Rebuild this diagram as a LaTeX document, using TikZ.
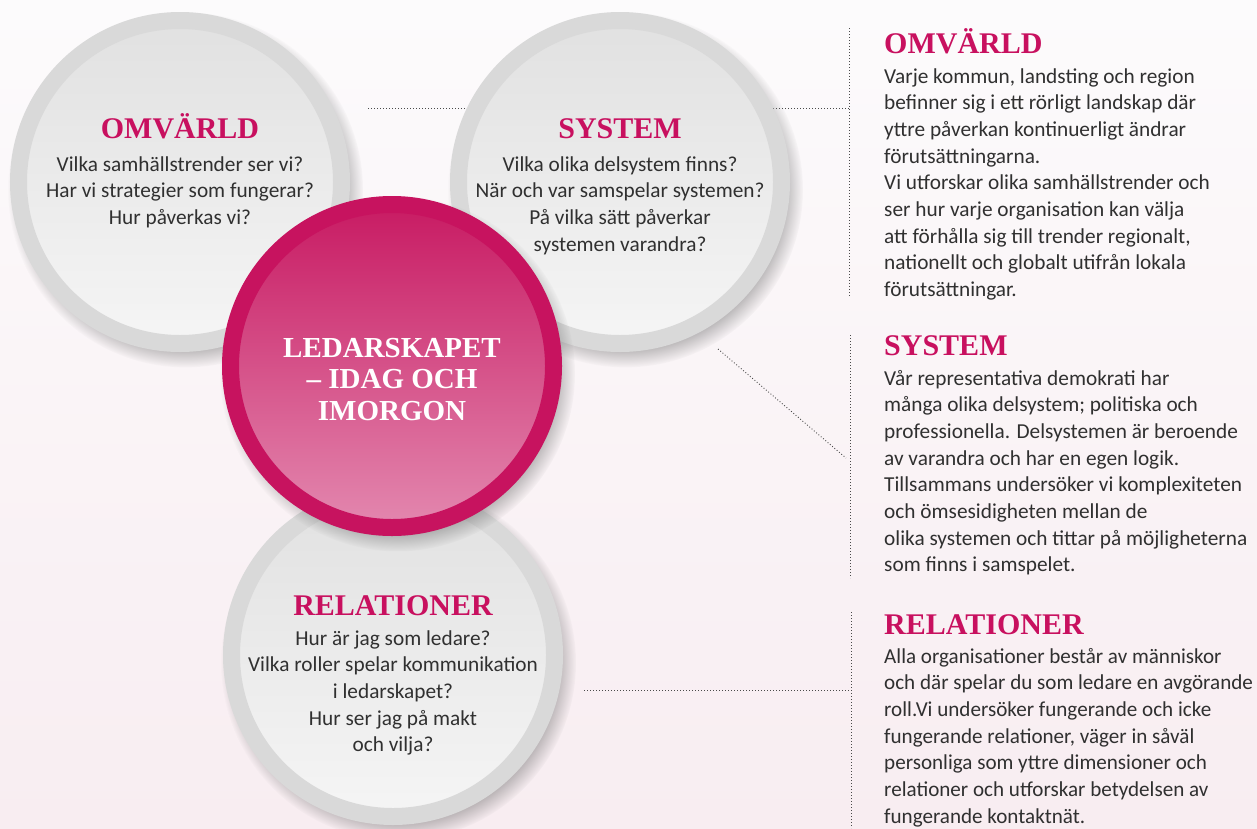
\documentclass[tikz,border=0pt]{standalone}
\usepackage{fontspec}
\newfontfamily\bodyfont{Carlito}
\newfontfamily\bodycond{Carlito}[FakeStretch=0.99]
\newfontfamily\headfont{Liberation Serif}
\usetikzlibrary{shadows,fadings}
\definecolor{bgtop}{HTML}{FCFBFC}
\definecolor{bgbot}{HTML}{F8EDF1}
\definecolor{grim}{HTML}{D9D9D9}
\definecolor{gtop}{HTML}{E1E1E1}
\definecolor{gbot}{HTML}{F5F5F5}
\definecolor{mrim}{HTML}{C7135F}
\definecolor{mtop}{HTML}{C81B63}
\definecolor{mbot}{HTML}{E388AF}
\definecolor{headc}{HTML}{C8105F}
\definecolor{txtc}{HTML}{303030}
\definecolor{dotc}{HTML}{4A4A4A}
\tikzset{
  ballshadow/.style={circular drop shadow={shadow xshift=5pt, shadow yshift=-7pt, shadow scale=1.1, opacity=.6, fill=black!60}},
  greyball/.style={circle, inner sep=0pt, minimum size=323pt, draw=grim, line width=17pt, top color=gtop, bottom color=gbot, ballshadow},
  pinkball/.style={circle, inner sep=0pt, minimum size=323pt, draw=mrim, line width=17pt, top color=mtop, bottom color=mbot, ballshadow},
  headtxt/.style={inner sep=0pt, text=headc, font=\headfont\bfseries\fontsize{30}{32}\selectfont},
  centretxt/.style={inner sep=0pt, text=white, font=\headfont\bfseries\fontsize{29}{31.5}\selectfont},
  bodytxt/.style={inner sep=0pt, text=txtc, font=\bodyfont\fontsize{21.3}{26.7}\selectfont},
  condtxt/.style={inner sep=0pt, text=txtc, font=\bodycond\fontsize{21.3}{26.7}\selectfont},
  dotline/.style={draw=dotc, line width=0.9pt, dash pattern=on 0.9pt off 2.1pt}
}
\begin{document}
\begin{tikzpicture}[x=1pt,y=-1pt]
\useasboundingbox (0,0) rectangle (1257,828);
\shade[top color=bgtop, bottom color=bgbot] (0,0) rectangle (1257,828);
% connector coordinates
\coordinate (l1s) at (368,108);
\coordinate (l1e) at (849,108);
\coordinate (b1t) at (849,28);
\coordinate (b1b) at (849,297);
\coordinate (l2s) at (718,349);
\coordinate (l2e) at (846,458);
\coordinate (b2t) at (850,335);
\coordinate (b2b) at (850,578);
\coordinate (l3s) at (584,690);
\coordinate (l3e) at (851,690);
\coordinate (b3t) at (851,612);
\coordinate (b3b) at (851,828);
\draw[dotline] (l1s) -- (l1e);
\draw[dotline] (b1t) -- (b1b);
\draw[dotline] (l2s) -- (l2e);
\draw[dotline] (b2t) -- (b2b);
\draw[dotline] (l3s) -- (l3e);
\draw[dotline] (b3t) -- (b3b);
% circles
\node[greyball] (omv) at (180,182) {};
\node[greyball] (sys) at (620,182) {};
\node[greyball] (rel) at (393,655) {};
\node[pinkball] (led) at (392,366) {};
% circle texts
\node[headtxt, anchor=base] (omvh) at (180,138) {OMVÄRLD};
\node[bodytxt, anchor=base] (omvb) at (180,171) {\begin{tabular}[t]{@{}c@{}}Vilka samhällstrender ser vi?\\Har vi strategier som fungerar?\\Hur påverkas vi?\end{tabular}};
\node[headtxt, anchor=base] (sysh) at (620,138) {SYSTEM};
\node[bodytxt, anchor=base] (sysb) at (620,171) {\begin{tabular}[t]{@{}c@{}}Vilka olika delsystem finns?\\När och var samspelar systemen?\\På vilka sätt påverkar\\systemen varandra?\end{tabular}};
\node[centretxt, anchor=base] (ledt) at (392,357) {\begin{tabular}[t]{@{}c@{}}LEDARSKAPET\\– IDAG OCH\\IMORGON\end{tabular}};
\node[headtxt, anchor=base] (relh) at (393,615) {RELATIONER};
\node[bodytxt, anchor=base] (relb) at (393,645) {\begin{tabular}[t]{@{}c@{}}Hur är jag som ledare?\\Vilka roller spelar kommunikation\\i ledarskapet?\\Hur ser jag på makt\\och vilja?\end{tabular}};
% right column
\node[headtxt, anchor=base west] (romvh) at (884,53) {OMVÄRLD};
\node[bodytxt, anchor=base west] (romvb) at (884,83) {\begin{tabular}[t]{@{}l@{}}Varje kommun, landsting och region\\befinner sig i ett rörligt landskap där\\yttre påverkan kontinuerligt ändrar\\förutsättningarna.\\Vi utforskar olika samhällstrender och\\ser hur varje organisation kan välja\\att förhålla sig till trender regionalt,\\nationellt och globalt utifrån lokala\\förutsättningar.\end{tabular}};
\node[headtxt, anchor=base west] (rsysh) at (884,355) {SYSTEM};
\node[bodytxt, anchor=base west] (rsysb) at (884,385) {\begin{tabular}[t]{@{}l@{}}Vår representativa demokrati har\\många olika delsystem; politiska och\\professionella. Delsystemen är beroende\\av varandra och har en egen logik.\\Tillsammans undersöker vi komplexiteten\\och ömsesidigheten mellan de\\olika systemen och tittar på möjligheterna\\som finns i samspelet.\end{tabular}};
\node[headtxt, anchor=base west] (rrelh) at (884,634) {RELATIONER};
\node[condtxt, anchor=base west] (rrelb) at (884,663) {\begin{tabular}[t]{@{}l@{}}Alla organisationer består av människor\\och där spelar du som ledare en avgörande\\roll.Vi undersöker fungerande och icke\\fungerande relationer, väger in såväl\\personliga som yttre dimensioner och\\relationer och utforskar betydelsen av\\fungerande kontaktnät.\end{tabular}};
\end{tikzpicture}
\end{document}
